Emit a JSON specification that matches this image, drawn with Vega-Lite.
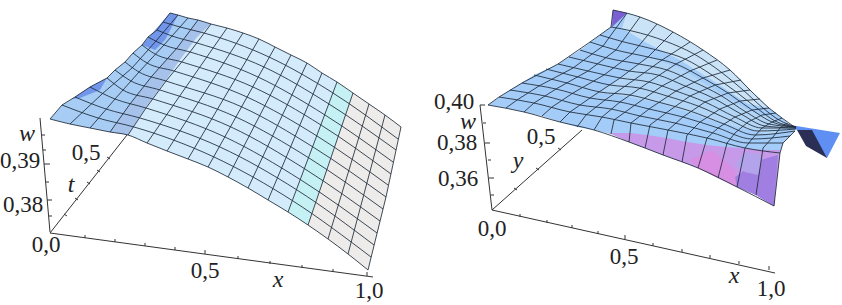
{"$schema":"https://vega.github.io/schema/vega-lite/v6.json","width":842,"height":305,"padding":0,"autosize":{"type":"none"},"background":"white","view":{"stroke":null},
"datasets":{
"polys":[
{"p":"a1","r":"blue","x":50,"y":119},{"p":"a1","r":"blue","x":62,"y":105},{"p":"a1","r":"blue","x":75,"y":97},{"p":"a1","r":"blue","x":90,"y":87},{"p":"a1","r":"blue","x":107,"y":78},{"p":"a1","r":"blue","x":115,"y":70},{"p":"a1","r":"blue","x":125,"y":62},{"p":"a1","r":"blue","x":133,"y":53},{"p":"a1","r":"blue","x":142,"y":45},{"p":"a1","r":"blue","x":148,"y":37},{"p":"a1","r":"blue","x":157,"y":30},{"p":"a1","r":"blue","x":163,"y":22},{"p":"a1","r":"blue","x":170,"y":13},{"p":"a1","r":"blue","x":178,"y":15},{"p":"a1","r":"blue","x":188,"y":18},{"p":"a1","r":"blue","x":198,"y":20},{"p":"a1","r":"blue","x":211,"y":24},{"p":"a1","r":"blue","x":197,"y":37},{"p":"a1","r":"blue","x":182,"y":57},{"p":"a1","r":"blue","x":166,"y":80},{"p":"a1","r":"blue","x":146,"y":107},{"p":"a1","r":"blue","x":128,"y":135},{"p":"a1","r":"blue","x":110,"y":132},{"p":"a1","r":"blue","x":90,"y":128},{"p":"a1","r":"blue","x":70,"y":124},
{"p":"a7","r":"mute","x":110,"y":132},{"p":"a7","r":"mute","x":130,"y":104},{"p":"a7","r":"mute","x":152,"y":76},{"p":"a7","r":"mute","x":177,"y":48},{"p":"a7","r":"mute","x":198,"y":20},{"p":"a7","r":"mute","x":211,"y":24},{"p":"a7","r":"mute","x":190,"y":52},{"p":"a7","r":"mute","x":166,"y":80},{"p":"a7","r":"mute","x":146,"y":107},{"p":"a7","r":"mute","x":128,"y":135},
{"p":"a2","r":"pale","x":211,"y":24},{"p":"a2","r":"pale","x":227,"y":28},{"p":"a2","r":"pale","x":243,"y":33},{"p":"a2","r":"pale","x":259,"y":39},{"p":"a2","r":"pale","x":275,"y":47},{"p":"a2","r":"pale","x":291,"y":55},{"p":"a2","r":"pale","x":307,"y":63},{"p":"a2","r":"pale","x":322,"y":73},{"p":"a2","r":"pale","x":337,"y":82},{"p":"a2","r":"pale","x":288,"y":212},{"p":"a2","r":"pale","x":268,"y":200},{"p":"a2","r":"pale","x":248,"y":188},{"p":"a2","r":"pale","x":228,"y":177},{"p":"a2","r":"pale","x":208,"y":167},{"p":"a2","r":"pale","x":188,"y":159},{"p":"a2","r":"pale","x":167,"y":151},{"p":"a2","r":"pale","x":147,"y":143},{"p":"a2","r":"pale","x":128,"y":135},{"p":"a2","r":"pale","x":146,"y":107},{"p":"a2","r":"pale","x":166,"y":80},{"p":"a2","r":"pale","x":182,"y":57},{"p":"a2","r":"pale","x":197,"y":37},
{"p":"a3","r":"teal","x":337,"y":82},{"p":"a3","r":"teal","x":353,"y":93},{"p":"a3","r":"teal","x":308,"y":225},{"p":"a3","r":"teal","x":288,"y":212},
{"p":"a4","r":"gray","x":353,"y":93},{"p":"a4","r":"gray","x":369,"y":104},{"p":"a4","r":"gray","x":385,"y":115},{"p":"a4","r":"gray","x":401,"y":127},{"p":"a4","r":"gray","x":398,"y":140},{"p":"a4","r":"gray","x":386,"y":197},{"p":"a4","r":"gray","x":368,"y":270},{"p":"a4","r":"gray","x":348,"y":254},{"p":"a4","r":"gray","x":328,"y":239},{"p":"a4","r":"gray","x":308,"y":225},
{"p":"a5","r":"deep","x":142,"y":45},{"p":"a5","r":"deep","x":170,"y":13},{"p":"a5","r":"deep","x":178,"y":15},{"p":"a5","r":"deep","x":165,"y":40},{"p":"a5","r":"deep","x":155,"y":50},
{"p":"a6","r":"deep","x":72,"y":99},{"p":"a6","r":"deep","x":90,"y":87},{"p":"a6","r":"deep","x":107,"y":78},{"p":"a6","r":"deep","x":100,"y":90},{"p":"a6","r":"deep","x":80,"y":98},
{"p":"b0","r":"sky","x":488,"y":105},{"p":"b0","r":"sky","x":510,"y":90},{"p":"b0","r":"sky","x":534,"y":75},{"p":"b0","r":"sky","x":558,"y":64},{"p":"b0","r":"sky","x":580,"y":50},{"p":"b0","r":"sky","x":600,"y":35},{"p":"b0","r":"sky","x":611,"y":27},{"p":"b0","r":"sky","x":613,"y":10},{"p":"b0","r":"sky","x":627,"y":13},{"p":"b0","r":"sky","x":640,"y":17},{"p":"b0","r":"sky","x":657,"y":24},{"p":"b0","r":"sky","x":673,"y":32},{"p":"b0","r":"sky","x":690,"y":42},{"p":"b0","r":"sky","x":703,"y":50},{"p":"b0","r":"sky","x":717,"y":60},{"p":"b0","r":"sky","x":730,"y":70},{"p":"b0","r":"sky","x":741,"y":80},{"p":"b0","r":"sky","x":750,"y":90},{"p":"b0","r":"sky","x":760,"y":99},{"p":"b0","r":"sky","x":769,"y":108},{"p":"b0","r":"sky","x":776,"y":113},{"p":"b0","r":"sky","x":782,"y":118},{"p":"b0","r":"sky","x":790,"y":125},{"p":"b0","r":"sky","x":796,"y":129},{"p":"b0","r":"sky","x":795,"y":131},{"p":"b0","r":"sky","x":783,"y":143},{"p":"b0","r":"sky","x":780,"y":153},{"p":"b0","r":"sky","x":774,"y":206},{"p":"b0","r":"sky","x":756,"y":195},{"p":"b0","r":"sky","x":737,"y":187},{"p":"b0","r":"sky","x":718,"y":178},{"p":"b0","r":"sky","x":698,"y":168},{"p":"b0","r":"sky","x":682,"y":162},{"p":"b0","r":"sky","x":663,"y":155},{"p":"b0","r":"sky","x":645,"y":148},{"p":"b0","r":"sky","x":629,"y":142},{"p":"b0","r":"sky","x":611,"y":134},{"p":"b0","r":"sky","x":594,"y":130},{"p":"b0","r":"sky","x":577,"y":127},{"p":"b0","r":"sky","x":560,"y":122},{"p":"b0","r":"sky","x":542,"y":116},{"p":"b0","r":"sky","x":524,"y":112},{"p":"b0","r":"sky","x":506,"y":108},
{"p":"b9","r":"mid","x":600,"y":92},{"p":"b9","r":"mid","x":648,"y":57},{"p":"b9","r":"mid","x":680,"y":68},{"p":"b9","r":"mid","x":715,"y":90},{"p":"b9","r":"mid","x":748,"y":110},{"p":"b9","r":"mid","x":790,"y":125},{"p":"b9","r":"mid","x":770,"y":135},{"p":"b9","r":"mid","x":720,"y":123},{"p":"b9","r":"mid","x":660,"y":103},
{"p":"b1","r":"back","x":622,"y":28},{"p":"b1","r":"back","x":627,"y":13},{"p":"b1","r":"back","x":640,"y":17},{"p":"b1","r":"back","x":657,"y":24},{"p":"b1","r":"back","x":673,"y":32},{"p":"b1","r":"back","x":690,"y":42},{"p":"b1","r":"back","x":703,"y":50},{"p":"b1","r":"back","x":717,"y":60},{"p":"b1","r":"back","x":730,"y":70},{"p":"b1","r":"back","x":741,"y":80},{"p":"b1","r":"back","x":750,"y":90},{"p":"b1","r":"back","x":760,"y":99},{"p":"b1","r":"back","x":769,"y":108},{"p":"b1","r":"back","x":748,"y":104},{"p":"b1","r":"back","x":715,"y":82},{"p":"b1","r":"back","x":680,"y":60},{"p":"b1","r":"back","x":645,"y":42},
{"p":"b2","r":"purple","x":608,"y":133},{"p":"b2","r":"purple","x":630,"y":133},{"p":"b2","r":"purple","x":647,"y":135},{"p":"b2","r":"purple","x":667,"y":138},{"p":"b2","r":"purple","x":687,"y":142},{"p":"b2","r":"purple","x":707,"y":145},{"p":"b2","r":"purple","x":727,"y":147},{"p":"b2","r":"purple","x":743,"y":148},{"p":"b2","r":"purple","x":763,"y":150},{"p":"b2","r":"purple","x":780,"y":150},{"p":"b2","r":"purple","x":774,"y":206},{"p":"b2","r":"purple","x":756,"y":195},{"p":"b2","r":"purple","x":737,"y":187},{"p":"b2","r":"purple","x":718,"y":178},{"p":"b2","r":"purple","x":698,"y":168},{"p":"b2","r":"purple","x":682,"y":162},{"p":"b2","r":"purple","x":663,"y":155},{"p":"b2","r":"purple","x":645,"y":148},{"p":"b2","r":"purple","x":629,"y":142},{"p":"b2","r":"purple","x":611,"y":134},
{"p":"b3","r":"pink","x":690,"y":160},{"p":"b3","r":"pink","x":712,"y":150},{"p":"b3","r":"pink","x":735,"y":170},{"p":"b3","r":"pink","x":737,"y":187},{"p":"b3","r":"pink","x":718,"y":178},{"p":"b3","r":"pink","x":698,"y":168},
{"p":"b4","r":"violet","x":735,"y":177},{"p":"b4","r":"violet","x":745,"y":170},{"p":"b4","r":"violet","x":760,"y":160},{"p":"b4","r":"violet","x":778,"y":155},{"p":"b4","r":"violet","x":774,"y":206},{"p":"b4","r":"violet","x":756,"y":195},{"p":"b4","r":"violet","x":737,"y":187},
{"p":"b5","r":"peri","x":745,"y":152},{"p":"b5","r":"peri","x":763,"y":155},{"p":"b5","r":"peri","x":758,"y":175},{"p":"b5","r":"peri","x":745,"y":172},{"p":"b5","r":"peri","x":735,"y":165},
{"p":"b6","r":"spike","x":613,"y":10},{"p":"b6","r":"spike","x":627,"y":13},{"p":"b6","r":"spike","x":612,"y":27},
{"p":"b7","r":"tip","x":790,"y":125},{"p":"b7","r":"tip","x":840,"y":133},{"p":"b7","r":"tip","x":827,"y":158},{"p":"b7","r":"tip","x":797,"y":130},
{"p":"b8","r":"fold","x":797,"y":130},{"p":"b8","r":"fold","x":812,"y":130},{"p":"b8","r":"fold","x":827,"y":158},{"p":"b8","r":"fold","x":806,"y":146}
],
"rows":[
{"g":"a0","x":50,"y":119},{"g":"a0","x":70,"y":124},{"g":"a0","x":90,"y":128},{"g":"a0","x":110,"y":132},{"g":"a0","x":128,"y":135},{"g":"a0","x":147,"y":143},{"g":"a0","x":167,"y":151},{"g":"a0","x":188,"y":159},{"g":"a0","x":208,"y":167},{"g":"a0","x":228,"y":177},{"g":"a0","x":248,"y":188},{"g":"a0","x":268,"y":200},{"g":"a0","x":288,"y":212},{"g":"a0","x":308,"y":225},{"g":"a0","x":328,"y":239},{"g":"a0","x":348,"y":254},{"g":"a0","x":368,"y":270},
{"g":"a1","x":62,"y":105},{"g":"a1","x":98,"y":118},{"g":"a1","x":134,"y":127},{"g":"a1","x":214,"y":157},{"g":"a1","x":293,"y":201},{"g":"a1","x":371,"y":257},
{"g":"a2","x":75,"y":97},{"g":"a2","x":106,"y":109},{"g":"a2","x":140,"y":118},{"g":"a2","x":220,"y":147},{"g":"a2","x":297,"y":190},{"g":"a2","x":374,"y":245},
{"g":"a3","x":90,"y":87},{"g":"a3","x":115,"y":99},{"g":"a3","x":146,"y":108},{"g":"a3","x":225,"y":137},{"g":"a3","x":301,"y":180},{"g":"a3","x":377,"y":233},
{"g":"a4","x":107,"y":78},{"g":"a4","x":123,"y":90},{"g":"a4","x":153,"y":99},{"g":"a4","x":231,"y":127},{"g":"a4","x":305,"y":169},{"g":"a4","x":380,"y":221},
{"g":"a5","x":115,"y":70},{"g":"a5","x":131,"y":81},{"g":"a5","x":160,"y":90},{"g":"a5","x":236,"y":117},{"g":"a5","x":309,"y":158},{"g":"a5","x":383,"y":209},
{"g":"a6","x":125,"y":62},{"g":"a6","x":139,"y":72},{"g":"a6","x":166,"y":81},{"g":"a6","x":242,"y":107},{"g":"a6","x":313,"y":147},{"g":"a6","x":386,"y":197},
{"g":"a7","x":133,"y":53},{"g":"a7","x":147,"y":63},{"g":"a7","x":174,"y":71},{"g":"a7","x":247,"y":97},{"g":"a7","x":317,"y":136},{"g":"a7","x":388,"y":185},
{"g":"a8","x":142,"y":45},{"g":"a8","x":155,"y":54},{"g":"a8","x":182,"y":62},{"g":"a8","x":253,"y":87},{"g":"a8","x":321,"y":125},{"g":"a8","x":391,"y":174},
{"g":"a9","x":148,"y":37},{"g":"a9","x":164,"y":45},{"g":"a9","x":190,"y":52},{"g":"a9","x":258,"y":77},{"g":"a9","x":325,"y":115},{"g":"a9","x":393,"y":162},
{"g":"a10","x":157,"y":30},{"g":"a10","x":172,"y":36},{"g":"a10","x":197,"y":43},{"g":"a10","x":264,"y":67},{"g":"a10","x":329,"y":104},{"g":"a10","x":396,"y":150},
{"g":"a11","x":163,"y":22},{"g":"a11","x":180,"y":27},{"g":"a11","x":204,"y":33},{"g":"a11","x":269,"y":57},{"g":"a11","x":333,"y":93},{"g":"a11","x":398,"y":139},
{"g":"a12","x":170,"y":13},{"g":"a12","x":178,"y":15},{"g":"a12","x":188,"y":18},{"g":"a12","x":198,"y":20},{"g":"a12","x":211,"y":24},{"g":"a12","x":227,"y":28},{"g":"a12","x":243,"y":33},{"g":"a12","x":259,"y":39},{"g":"a12","x":275,"y":47},{"g":"a12","x":291,"y":55},{"g":"a12","x":307,"y":63},{"g":"a12","x":322,"y":73},{"g":"a12","x":337,"y":82},{"g":"a12","x":353,"y":93},{"g":"a12","x":369,"y":104},{"g":"a12","x":385,"y":115},{"g":"a12","x":401,"y":127},
{"g":"b0","x":488,"y":105},{"g":"b0","x":524,"y":112},{"g":"b0","x":560,"y":122},{"g":"b0","x":594,"y":130},{"g":"b0","x":629,"y":142},{"g":"b0","x":663,"y":155},{"g":"b0","x":698,"y":168},{"g":"b0","x":737,"y":187},{"g":"b0","x":774,"y":206},
{"g":"b1","x":499,"y":97},{"g":"b1","x":534,"y":103},{"g":"b1","x":570,"y":112},{"g":"b1","x":602,"y":117},{"g":"b1","x":631,"y":123},{"g":"b1","x":668,"y":130},{"g":"b1","x":707,"y":138},{"g":"b1","x":745,"y":148},{"g":"b1","x":780,"y":153},
{"g":"b2","x":510,"y":90},{"g":"b2","x":545,"y":96},{"g":"b2","x":580,"y":105},{"g":"b2","x":611,"y":109},{"g":"b2","x":640,"y":116},{"g":"b2","x":675,"y":123},{"g":"b2","x":713,"y":133},{"g":"b2","x":748,"y":143},{"g":"b2","x":783,"y":143},
{"g":"b3","x":522,"y":83},{"g":"b3","x":556,"y":89},{"g":"b3","x":590,"y":98},{"g":"b3","x":620,"y":102},{"g":"b3","x":649,"y":109},{"g":"b3","x":683,"y":117},{"g":"b3","x":718,"y":128},{"g":"b3","x":752,"y":139},{"g":"b3","x":790,"y":136},
{"g":"b4","x":534,"y":75},{"g":"b4","x":567,"y":83},{"g":"b4","x":600,"y":92},{"g":"b4","x":630,"y":95},{"g":"b4","x":658,"y":102},{"g":"b4","x":690,"y":111},{"g":"b4","x":724,"y":124},{"g":"b4","x":755,"y":135},{"g":"b4","x":795,"y":131},
{"g":"b5","x":546,"y":69},{"g":"b5","x":578,"y":77},{"g":"b5","x":610,"y":85},{"g":"b5","x":639,"y":88},{"g":"b5","x":667,"y":96},{"g":"b5","x":698,"y":106},{"g":"b5","x":730,"y":120},{"g":"b5","x":758,"y":131},{"g":"b5","x":796,"y":129},
{"g":"b6","x":558,"y":64},{"g":"b6","x":588,"y":71},{"g":"b6","x":620,"y":78},{"g":"b6","x":649,"y":82},{"g":"b6","x":676,"y":91},{"g":"b6","x":705,"y":102},{"g":"b6","x":735,"y":117},{"g":"b6","x":762,"y":128},{"g":"b6","x":796,"y":128},
{"g":"b7","x":569,"y":57},{"g":"b7","x":598,"y":64},{"g":"b7","x":629,"y":71},{"g":"b7","x":658,"y":75},{"g":"b7","x":685,"y":86},{"g":"b7","x":713,"y":98},{"g":"b7","x":741,"y":114},{"g":"b7","x":765,"y":126},{"g":"b7","x":796,"y":128},
{"g":"b8","x":580,"y":50},{"g":"b8","x":607,"y":58},{"g":"b8","x":639,"y":64},{"g":"b8","x":667,"y":70},{"g":"b8","x":694,"y":82},{"g":"b8","x":720,"y":95},{"g":"b8","x":746,"y":112},{"g":"b8","x":769,"y":124},{"g":"b8","x":796,"y":127},
{"g":"b9","x":590,"y":42},{"g":"b9","x":616,"y":50},{"g":"b9","x":648,"y":57},{"g":"b9","x":676,"y":64},{"g":"b9","x":703,"y":78},{"g":"b9","x":728,"y":93},{"g":"b9","x":752,"y":110},{"g":"b9","x":772,"y":122},{"g":"b9","x":796,"y":127},
{"g":"b10","x":600,"y":35},{"g":"b10","x":624,"y":42},{"g":"b10","x":657,"y":50},{"g":"b10","x":685,"y":59},{"g":"b10","x":712,"y":75},{"g":"b10","x":735,"y":91},{"g":"b10","x":758,"y":109},{"g":"b10","x":775,"y":121},{"g":"b10","x":796,"y":127},
{"g":"b11","x":611,"y":27},{"g":"b11","x":632,"y":31},{"g":"b11","x":665,"y":41},{"g":"b11","x":694,"y":54},{"g":"b11","x":721,"y":72},{"g":"b11","x":743,"y":90},{"g":"b11","x":763,"y":108},{"g":"b11","x":779,"y":120},{"g":"b11","x":796,"y":127},
{"g":"b12","x":613,"y":10},{"g":"b12","x":640,"y":17},{"g":"b12","x":673,"y":32},{"g":"b12","x":703,"y":50},{"g":"b12","x":730,"y":70},{"g":"b12","x":750,"y":90},{"g":"b12","x":769,"y":108},{"g":"b12","x":782,"y":118},{"g":"b12","x":796,"y":128}
],
"cols":[
{"g":"c0","x":50,"y":119},{"g":"c0","x":62,"y":105},{"g":"c0","x":75,"y":97},{"g":"c0","x":90,"y":87},{"g":"c0","x":107,"y":78},{"g":"c0","x":115,"y":70},{"g":"c0","x":125,"y":62},{"g":"c0","x":133,"y":53},{"g":"c0","x":142,"y":45},{"g":"c0","x":148,"y":37},{"g":"c0","x":157,"y":30},{"g":"c0","x":163,"y":22},{"g":"c0","x":170,"y":13},
{"g":"c1","x":70,"y":124},{"g":"c1","x":102,"y":94},{"g":"c1","x":132,"y":68},{"g":"c1","x":156,"y":41},{"g":"c1","x":178,"y":15},
{"g":"c2","x":90,"y":128},{"g":"c2","x":115,"y":99},{"g":"c2","x":139,"y":72},{"g":"c2","x":164,"y":45},{"g":"c2","x":188,"y":18},
{"g":"c3","x":110,"y":132},{"g":"c3","x":130,"y":104},{"g":"c3","x":152,"y":76},{"g":"c3","x":177,"y":48},{"g":"c3","x":198,"y":20},
{"g":"c4","x":128,"y":135},{"g":"c4","x":146,"y":108},{"g":"c4","x":166,"y":81},{"g":"c4","x":190,"y":52},{"g":"c4","x":211,"y":24},
{"g":"c5","x":147,"y":143},{"g":"c5","x":227,"y":28},{"g":"c6","x":167,"y":151},{"g":"c6","x":243,"y":33},{"g":"c7","x":188,"y":159},{"g":"c7","x":259,"y":39},{"g":"c8","x":208,"y":167},{"g":"c8","x":275,"y":47},{"g":"c9","x":228,"y":177},{"g":"c9","x":291,"y":55},{"g":"c10","x":248,"y":188},{"g":"c10","x":307,"y":63},{"g":"c11","x":268,"y":200},{"g":"c11","x":322,"y":73},{"g":"c12","x":288,"y":212},{"g":"c12","x":337,"y":82},{"g":"c13","x":308,"y":225},{"g":"c13","x":353,"y":93},{"g":"c14","x":328,"y":239},{"g":"c14","x":369,"y":104},{"g":"c15","x":348,"y":254},{"g":"c15","x":385,"y":115},{"g":"c16","x":368,"y":270},{"g":"c16","x":386,"y":197},{"g":"c16","x":401,"y":127},
{"g":"d0","x":488,"y":105},{"g":"d0","x":499,"y":97},{"g":"d0","x":522,"y":83},{"g":"d0","x":558,"y":64},{"g":"d0","x":590,"y":42},{"g":"d0","x":611,"y":27},{"g":"d0","x":613,"y":10},
{"g":"d1","x":506,"y":108},{"g":"d1","x":517,"y":100},{"g":"d1","x":539,"y":86},{"g":"d1","x":573,"y":68},{"g":"d1","x":603,"y":46},{"g":"d1","x":627,"y":13},
{"g":"d2","x":524,"y":112},{"g":"d2","x":534,"y":103},{"g":"d2","x":556,"y":89},{"g":"d2","x":588,"y":71},{"g":"d2","x":616,"y":50},{"g":"d2","x":640,"y":17},
{"g":"d3","x":542,"y":116},{"g":"d3","x":552,"y":107},{"g":"d3","x":573,"y":93},{"g":"d3","x":604,"y":75},{"g":"d3","x":632,"y":54},{"g":"d3","x":657,"y":24},
{"g":"d4","x":560,"y":122},{"g":"d4","x":570,"y":112},{"g":"d4","x":590,"y":98},{"g":"d4","x":620,"y":78},{"g":"d4","x":648,"y":57},{"g":"d4","x":673,"y":32},
{"g":"d5","x":577,"y":127},{"g":"d5","x":586,"y":115},{"g":"d5","x":605,"y":100},{"g":"d5","x":634,"y":80},{"g":"d5","x":662,"y":60},{"g":"d5","x":690,"y":42},
{"g":"d6","x":594,"y":130},{"g":"d6","x":602,"y":117},{"g":"d6","x":620,"y":102},{"g":"d6","x":649,"y":82},{"g":"d6","x":676,"y":64},{"g":"d6","x":703,"y":50},
{"g":"d7","x":611,"y":134},{"g":"d7","x":614,"y":120},{"g":"d7","x":635,"y":105},{"g":"d7","x":662,"y":86},{"g":"d7","x":690,"y":71},{"g":"d7","x":717,"y":60},
{"g":"d8","x":629,"y":142},{"g":"d8","x":631,"y":123},{"g":"d8","x":649,"y":109},{"g":"d8","x":676,"y":91},{"g":"d8","x":703,"y":78},{"g":"d8","x":730,"y":70},
{"g":"d9","x":645,"y":148},{"g":"d9","x":650,"y":125},{"g":"d9","x":666,"y":113},{"g":"d9","x":690,"y":96},{"g":"d9","x":715,"y":85},{"g":"d9","x":741,"y":80},
{"g":"d10","x":663,"y":155},{"g":"d10","x":668,"y":130},{"g":"d10","x":683,"y":117},{"g":"d10","x":705,"y":102},{"g":"d10","x":728,"y":93},{"g":"d10","x":750,"y":90},
{"g":"d11","x":682,"y":162},{"g":"d11","x":687,"y":135},{"g":"d11","x":700,"y":122},{"g":"d11","x":720,"y":109},{"g":"d11","x":740,"y":101},{"g":"d11","x":760,"y":99},
{"g":"d12","x":698,"y":168},{"g":"d12","x":707,"y":138},{"g":"d12","x":718,"y":128},{"g":"d12","x":735,"y":117},{"g":"d12","x":752,"y":110},{"g":"d12","x":769,"y":108},
{"g":"d13","x":718,"y":178},{"g":"d13","x":727,"y":143},{"g":"d13","x":735,"y":133},{"g":"d13","x":748,"y":122},{"g":"d13","x":762,"y":115},{"g":"d13","x":776,"y":113},
{"g":"d14","x":737,"y":187},{"g":"d14","x":745,"y":148},{"g":"d14","x":752,"y":139},{"g":"d14","x":762,"y":128},{"g":"d14","x":772,"y":122},{"g":"d14","x":782,"y":118},
{"g":"d15","x":756,"y":195},{"g":"d15","x":763,"y":148},{"g":"d15","x":773,"y":137},{"g":"d15","x":780,"y":128},{"g":"d15","x":785,"y":124},{"g":"d15","x":788,"y":124},
{"g":"d16","x":774,"y":206},{"g":"d16","x":780,"y":153},{"g":"d16","x":783,"y":143},{"g":"d16","x":795,"y":131}
],
"axes":[
{"g":"w1","x":40,"y":118},{"g":"w1","x":50,"y":232},{"g":"t1","x":50,"y":233},{"g":"t1","x":127,"y":135},{"g":"x1","x":50,"y":233},{"g":"x1","x":373,"y":277},
{"g":"w2","x":480,"y":105},{"g":"w2","x":492,"y":210},{"g":"y2","x":492,"y":210},{"g":"y2","x":582,"y":130},{"g":"x2","x":492,"y":210},{"g":"x2","x":775,"y":273},
{"g":"k1","x":85,"y":235},{"g":"k1","x":85,"y":238},{"g":"k2","x":115,"y":239},{"g":"k2","x":115,"y":242},{"g":"k3","x":145,"y":243},{"g":"k3","x":145,"y":246},{"g":"k4","x":175,"y":247},{"g":"k4","x":175,"y":250},{"g":"k5","x":205,"y":250},{"g":"k5","x":205,"y":254},{"g":"k6","x":238,"y":256},{"g":"k6","x":238,"y":259},{"g":"k7","x":270,"y":261},{"g":"k7","x":270,"y":264},{"g":"k8","x":302,"y":265},{"g":"k8","x":302,"y":268},{"g":"k9","x":333,"y":269},{"g":"k9","x":333,"y":272},{"g":"k10","x":367,"y":272},{"g":"k10","x":367,"y":276},
{"g":"m1","x":42,"y":135},{"g":"m1","x":45,"y":135},{"g":"m2","x":43,"y":150},{"g":"m2","x":46,"y":150},{"g":"m3","x":44,"y":164},{"g":"m3","x":50,"y":164},{"g":"m4","x":46,"y":182},{"g":"m4","x":49,"y":182},{"g":"m5","x":47,"y":200},{"g":"m5","x":52,"y":200},{"g":"m6","x":49,"y":216},{"g":"m6","x":52,"y":216},
{"g":"n1","x":64,"y":214},{"g":"n1","x":67,"y":216},{"g":"n2","x":75,"y":198},{"g":"n2","x":78,"y":200},{"g":"n3","x":87,"y":182},{"g":"n3","x":90,"y":184},{"g":"n4","x":97,"y":170},{"g":"n4","x":100,"y":172},{"g":"n5","x":107,"y":157},{"g":"n5","x":110,"y":159},
{"g":"q1","x":520,"y":214},{"g":"q1","x":520,"y":217},{"g":"q2","x":547,"y":220},{"g":"q2","x":547,"y":223},{"g":"q3","x":572,"y":225},{"g":"q3","x":572,"y":228},{"g":"q4","x":598,"y":231},{"g":"q4","x":598,"y":234},{"g":"q5","x":625,"y":235},{"g":"q5","x":625,"y":239},{"g":"q6","x":653,"y":243},{"g":"q6","x":653,"y":246},{"g":"q7","x":682,"y":249},{"g":"q7","x":682,"y":252},{"g":"q8","x":710,"y":255},{"g":"q8","x":710,"y":258},{"g":"q9","x":739,"y":261},{"g":"q9","x":739,"y":264},{"g":"q10","x":769,"y":266},{"g":"q10","x":769,"y":270},
{"g":"u1","x":480,"y":105},{"g":"u1","x":485,"y":105},{"g":"u2","x":483,"y":123},{"g":"u2","x":486,"y":123},{"g":"u3","x":485,"y":143},{"g":"u3","x":490,"y":143},{"g":"u4","x":488,"y":160},{"g":"u4","x":491,"y":160},{"g":"u5","x":489,"y":178},{"g":"u5","x":494,"y":178},{"g":"u6","x":491,"y":195},{"g":"u6","x":494,"y":195},
{"g":"v1","x":514,"y":188},{"g":"v1","x":517,"y":190},{"g":"v2","x":536,"y":168},{"g":"v2","x":539,"y":170},{"g":"v3","x":558,"y":148},{"g":"v3","x":561,"y":150}
],
"labels":[
{"t":"0,39","f":"n","x":20,"y":161},{"t":"0,38","f":"n","x":23,"y":205},{"t":"0,5","f":"n","x":86,"y":153},{"t":"0,0","f":"n","x":46,"y":245},{"t":"0,5","f":"n","x":205,"y":271},{"t":"1,0","f":"n","x":369,"y":291},
{"t":"0,40","f":"n","x":454,"y":102},{"t":"0,38","f":"n","x":457,"y":143},{"t":"0,36","f":"n","x":458,"y":179},{"t":"0,5","f":"n","x":541,"y":137},{"t":"0,0","f":"n","x":492,"y":229},{"t":"0,5","f":"n","x":624,"y":257},{"t":"1,0","f":"n","x":771,"y":289},
{"t":"w","f":"i","x":27,"y":134},{"t":"t","f":"i","x":71,"y":185},{"t":"x","f":"i","x":278,"y":280},{"t":"w","f":"i","x":468,"y":122},{"t":"y","f":"i","x":518,"y":161},{"t":"x","f":"i","x":734,"y":276}
]},
"encoding":{
"x":{"field":"x","type":"quantitative","scale":{"domain":[0,842]},"axis":null},
"y":{"field":"y","type":"quantitative","scale":{"domain":[305,0]},"axis":null}},
"layer":[
{"data":{"name":"polys"},"mark":{"type":"line","strokeWidth":0},"transform":[{"window":[{"op":"row_number","as":"o"}]}],
"encoding":{"detail":{"field":"p"},"order":{"field":"o","type":"quantitative"},"fill":{"field":"r","type":"nominal","legend":null,"scale":{"domain":["blue","mute","pale","teal","gray","deep","sky","mid","back","purple","pink","violet","peri","spike","tip","fold"],"range":["#a7cdf5","#a6c2ea","#d3ebfb","#c6f1f4","#eeecea","#7296ea","#a4ccf8","#b4d6f6","#cbe3f6","#c79ae9","#d68fe2","#a17fe2","#b3a3ea","#7a5fd2","#5f8ff2","#2b2f55"]}}}},
{"data":{"name":"cols"},"mark":{"type":"line","color":"#1f2a38","strokeWidth":1,"opacity":0.85},"encoding":{"detail":{"field":"g"}}},
{"data":{"name":"rows"},"mark":{"type":"line","color":"#1f2a38","strokeWidth":1,"opacity":0.85,"interpolate":"monotone"},"encoding":{"detail":{"field":"g"}}},
{"data":{"name":"axes"},"mark":{"type":"line","color":"#333333","strokeWidth":1},"encoding":{"detail":{"field":"g"}}},
{"data":{"name":"labels"},"transform":[{"filter":"datum.f=='n'"}],"mark":{"type":"text","font":"Liberation Serif","fontSize":23,"color":"#222222","align":"center","baseline":"middle"},"encoding":{"text":{"field":"t"}}},
{"data":{"name":"labels"},"transform":[{"filter":"datum.f=='i'"}],"mark":{"type":"text","font":"Liberation Serif","fontStyle":"italic","fontSize":24,"color":"#222222","align":"center","baseline":"middle"},"encoding":{"text":{"field":"t"}}}
]}
